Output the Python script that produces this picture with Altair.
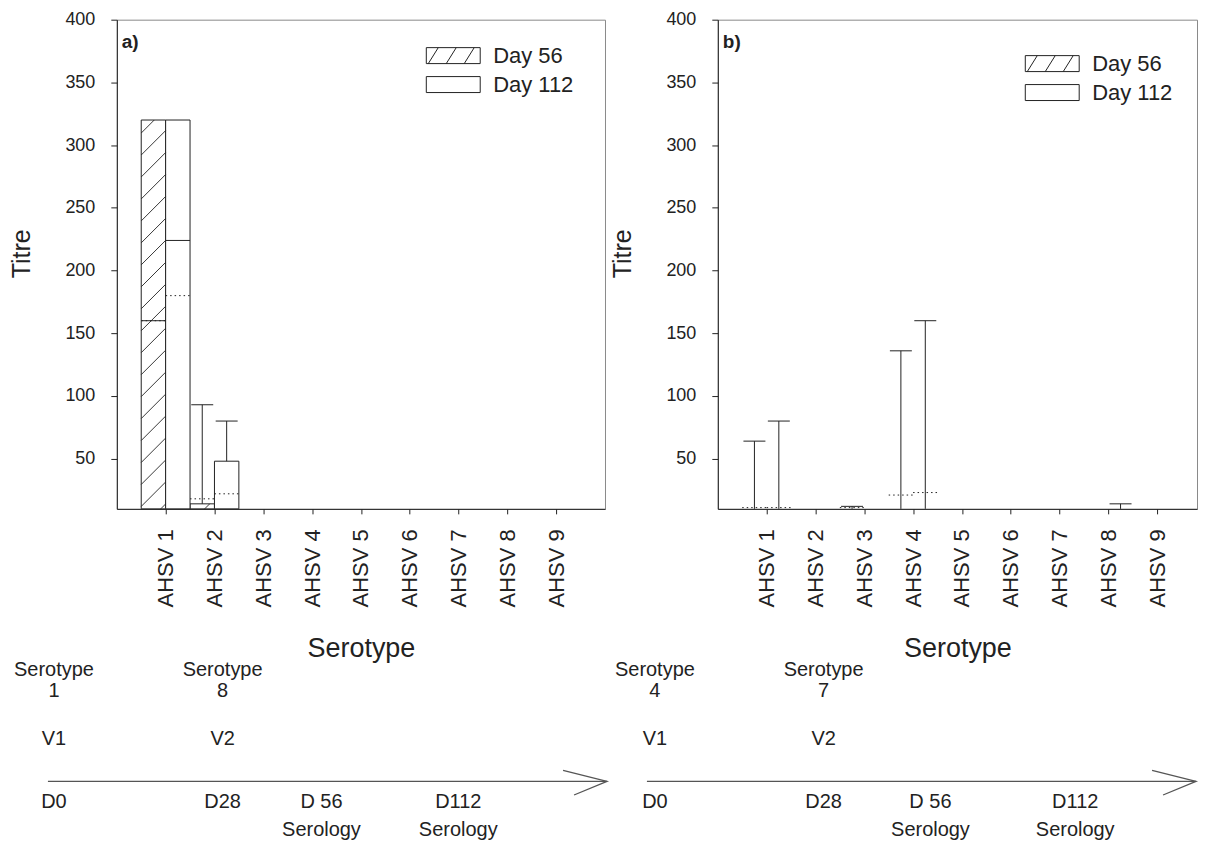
import json
import math
import altair as alt
import pandas as pd

FONT = "Liberation Sans"
INK = "#222222"
ARROW = "#555555"

# ---------------- data ----------------
serotype_labels = ["AHSV 1", "AHSV 2", "AHSV 3", "AHSV 4", "AHSV 5",
                   "AHSV 6", "AHSV 7", "AHSV 8", "AHSV 9"]
positions = [1, 2, 3, 4, 5, 6, 7, 8, 9]
groups = ["Day 56", "Day 112"]
y_ticks = [50, 100, 150, 200, 250, 300, 350, 400]

# panel a) box statistics (titre)
a56_q1 = [10, 10, 10, 10, 10, 10, 10, 10, 10]
a56_median = [160, 10, 10, 10, 10, 10, 10, 10, 10]
a56_q3 = [320, 14, 10, 10, 10, 10, 10, 10, 10]
a56_mean = [160, 18, 10, 10, 10, 10, 10, 10, 10]
a56_upper = [320, 93, 10, 10, 10, 10, 10, 10, 10]
a112_q1 = [10, 10, 10, 10, 10, 10, 10, 10, 10]
a112_median = [224, 10, 10, 10, 10, 10, 10, 10, 10]
a112_q3 = [320, 48, 10, 10, 10, 10, 10, 10, 10]
a112_mean = [180, 22, 10, 10, 10, 10, 10, 10, 10]
a112_upper = [320, 80, 10, 10, 10, 10, 10, 10, 10]

# panel b) box statistics (titre)
b56_q1 = [10, 10, 10, 10, 10, 10, 10, 10, 10]
b56_median = [10, 10, 10, 10, 10, 10, 10, 10, 10]
b56_q3 = [10, 10, 10, 10, 10, 10, 10, 10, 10]
b56_mean = [11, 10, 11, 21, 10, 10, 10, 10, 10]
b56_upper = [64, 10, 12, 136, 10, 10, 10, 10, 10]
b112_q1 = [10, 10, 10, 10, 10, 10, 10, 10, 10]
b112_median = [10, 10, 10, 10, 10, 10, 10, 10, 10]
b112_q3 = [10, 10, 10, 10, 10, 10, 10, 10, 10]
b112_mean = [11, 10, 10, 23, 10, 10, 10, 10, 10]
b112_upper = [80, 10, 10, 160, 10, 10, 10, 14, 10]

# timelines
tl_days = [0, 28, 56, 112]
tl_day_labels = ["D0", "D28", "D 56", "D112"]
tl_visits = ["V1", "V2", "", ""]
tl_serology = ["", "", "Serology", "Serology"]
a_vaccines = ["Serotype\n1", "Serotype\n8", "", ""]
b_vaccines = ["Serotype\n4", "Serotype\n7", "", ""]

# ---------------- layout / style ----------------
H = 490
PX_PER_UNIT = 48.9
X_MIN = 0
Y_MIN, Y_MAX = 10, 400
HALF = 0.5      # box width in category units
CAP = 0.225     # half width of whisker cap
HATCH_PX = 22   # hatch spacing in pixels

HATCH_PATH = ("M-2.7,-0.8L2.7,-0.8L2.7,0.8L-2.7,0.8Z"
              "M-2.5,0.8L-1.5,-0.8M-0.7,0.8L0.3,-0.8M1.1,0.8L2.1,-0.8")
PLAIN_PATH = "M-2.7,-0.8L2.7,-0.8L2.7,0.8L-2.7,0.8Z"
CHEVRON = "M-1,-0.5L1,0L-0.5,0.62"


def box_frame(stats):
    rows = []
    for day, (q1, med, q3, mean, up) in stats.items():
        for i, p in enumerate(positions):
            x0 = p - HALF if day == "Day 56" else p
            x1 = x0 + HALF
            xc = (x0 + x1) / 2
            rows.append(dict(pos=p, day=day, q1=q1[i], med=med[i], q3=q3[i],
                             mean=mean[i], upper=up[i], x0=x0, x1=x1, xc=xc,
                             c0=xc - CAP, c1=xc + CAP))
    return pd.DataFrame(rows)


def hatch_frame(df):
    sx = PX_PER_UNIT
    sy = H / (Y_MAX - Y_MIN)
    segs = []
    sel = df[(df["day"] == "Day 56") & (df["q3"] > df["q1"])]
    for r in sel.itertuples():
        X0, X1 = (r.x0 - X_MIN) * sx, (r.x1 - X_MIN) * sx
        Y0, Y1 = (r.q1 - Y_MIN) * sy, (r.q3 - Y_MIN) * sy
        c = math.floor((Y0 - X1) / HATCH_PX) * HATCH_PX
        while c <= Y1 - X0:
            lo, hi = max(X0, Y0 - c), min(X1, Y1 - c)
            if hi - lo > 0.5:
                segs.append(dict(hx=lo / sx + X_MIN, hy=(lo + c) / sy + Y_MIN,
                                 hx2=hi / sx + X_MIN, hy2=(hi + c) / sy + Y_MIN))
            c += HATCH_PX
    return pd.DataFrame(segs, columns=["hx", "hy", "hx2", "hy2"])


ys = alt.Scale(domain=[Y_MIN, Y_MAX], nice=False, zero=False)
x_axis = alt.Axis(values=positions,
                  labelExpr=f"{json.dumps(serotype_labels)}[datum.value - 1]",
                  labelAngle=270, labelFontSize=22, labelPadding=15, tickSize=5,
                  title="Serotype", titleFontSize=27, titlePadding=29,
                  titleFontWeight="normal", grid=False,
                  domainColor=INK, tickColor=INK, labelColor=INK, titleColor=INK)
y_axis = alt.Axis(values=y_ticks, labelFontSize=18, labelPadding=16, tickSize=6,
                  title="Titre", titleFontSize=25, titlePadding=30, titleY=234,
                  titleFontWeight="normal", grid=False,
                  domainColor=INK, tickColor=INK, labelColor=INK, titleColor=INK)


def panel(df, label, width, legend_x, legend_y):
    xs = alt.Scale(domain=[X_MIN, X_MIN + width / PX_PER_UNIT], nice=False, zero=False)

    def X(f):
        return alt.X(f, type="quantitative", scale=xs, axis=x_axis)

    def Y(f):
        return alt.Y(f, type="quantitative", scale=ys, axis=y_axis)

    base = alt.Chart(df)
    rect = base.transform_filter("datum.q3 > datum.q1").mark_rect(
        fill="white", stroke=INK, strokeWidth=1).encode(
        x=X("x0"), x2="x1", y=Y("q1"), y2="q3")
    layers = [rect]
    hdf = hatch_frame(df)
    if len(hdf):
        layers.append(alt.Chart(hdf).mark_rule(color=INK, strokeWidth=0.9).encode(
            x=X("hx"), y=Y("hy"), x2="hx2", y2="hy2"))
    layers += [
        base.transform_filter("datum.med > datum.q1").mark_rule(
            color=INK, strokeWidth=1).encode(x=X("x0"), x2="x1", y=Y("med")),
        base.transform_filter("datum.mean > datum.q1 + 0.5").mark_rule(
            color=INK, strokeWidth=1, strokeDash=[1.5, 3]).encode(
            x=X("x0"), x2="x1", y=Y("mean")),
        base.transform_filter("datum.upper > datum.q3").mark_rule(
            color=INK, strokeWidth=1).encode(x=X("xc"), y=Y("q3"), y2="upper"),
        base.transform_filter("datum.upper > datum.q3").mark_rule(
            color=INK, strokeWidth=1).encode(x=X("c0"), x2="c1", y=Y("upper")),
        base.transform_filter("false").mark_point(
            filled=False, opacity=1, color=INK, strokeWidth=1).encode(
            x=X("xc"), y=Y("upper"),
            shape=alt.Shape("day:N",
                            scale=alt.Scale(domain=groups, range=[HATCH_PATH, PLAIN_PATH]),
                            legend=alt.Legend(orient="none", legendX=legend_x, legendY=legend_y,
                                              title=None, symbolSize=400,
                                              symbolStrokeColor=INK, symbolStrokeWidth=1,
                                              symbolOpacity=1, labelFontSize=22,
                                              labelFont=FONT, labelColor=INK,
                                              labelOffset=29, rowPadding=7))),
    ]
    return alt.layer(*layers).properties(
        width=width, height=H,
        title=alt.TitleParams(label, anchor="start", frame="group", orient="top",
                              offset=-41, dx=5, fontSize=19, fontWeight="bold",
                              baseline="top", color=INK, font=FONT),
        view=alt.ViewBackground(stroke="#8a8a8a", strokeWidth=1),
    )


def timeline(vaccines, rng, width, arrow_from, arrow_to):
    df = pd.DataFrame(dict(day=tl_days, dlab=tl_day_labels, visit=tl_visits,
                           serol=tl_serology, vacc=vaccines))
    one = pd.DataFrame(dict(k=[0]))
    sc = alt.Scale(domain=tl_days, range=rng)

    def txt(field, y, baseline):
        return alt.Chart(df).mark_text(
            fontSize=20, font=FONT, color=INK, baseline=baseline, align="center",
            lineBreak="\n", lineHeight=21).encode(
            x=alt.X("day:Q", scale=sc, axis=None), y=alt.value(y),
            text=f"{field}:N")

    arrow = alt.Chart(one).mark_rule(color=ARROW, strokeWidth=1.4).encode(
        x=alt.value(arrow_from), x2=alt.value(arrow_to), y=alt.value(123))
    head = alt.Chart(one).mark_point(shape=CHEVRON, filled=False, size=1936,
                                     strokeWidth=1.3, color=ARROW, opacity=1).encode(
        x=alt.value(arrow_to - 22), y=alt.value(123))
    return alt.layer(arrow, head, txt("vacc", 1, "top"), txt("visit", 81, "middle"),
                     txt("dlab", 144, "middle"), txt("serol", 172, "middle")).properties(
        width=width, height=170, view=alt.ViewBackground(stroke="transparent"))


df_a = box_frame({"Day 56": (a56_q1, a56_median, a56_q3, a56_mean, a56_upper),
                  "Day 112": (a112_q1, a112_median, a112_q3, a112_mean, a112_upper)})
df_b = box_frame({"Day 56": (b56_q1, b56_median, b56_q3, b56_mean, b56_upper),
                  "Day 112": (b112_q1, b112_median, b112_q3, b112_mean, b112_upper)})

pa = panel(df_a, "a)", 489, 326, 25)
pb = panel(df_b, "b)", 480, 324, 33)
ta = timeline(a_vaccines, [-63, 106, 205, 342], 489, -69, 491)
tb = timeline(b_vaccines, [-63, 106, 213, 358], 480, -71, 479)

chart = alt.concat(pa, pb, ta, tb, columns=2,
                   spacing=alt.RowColnumber(row=150, column=113),
                   bounds="flush").resolve_scale(
    x="independent", y="independent", shape="independent"
).resolve_legend(shape="independent").properties(
    padding={"left": 1, "top": 1, "right": 0, "bottom": 0}
).configure(font=FONT).configure_view(stroke="transparent")

chart.save("out.html", embed_options={"renderer": "svg", "actions": False})
